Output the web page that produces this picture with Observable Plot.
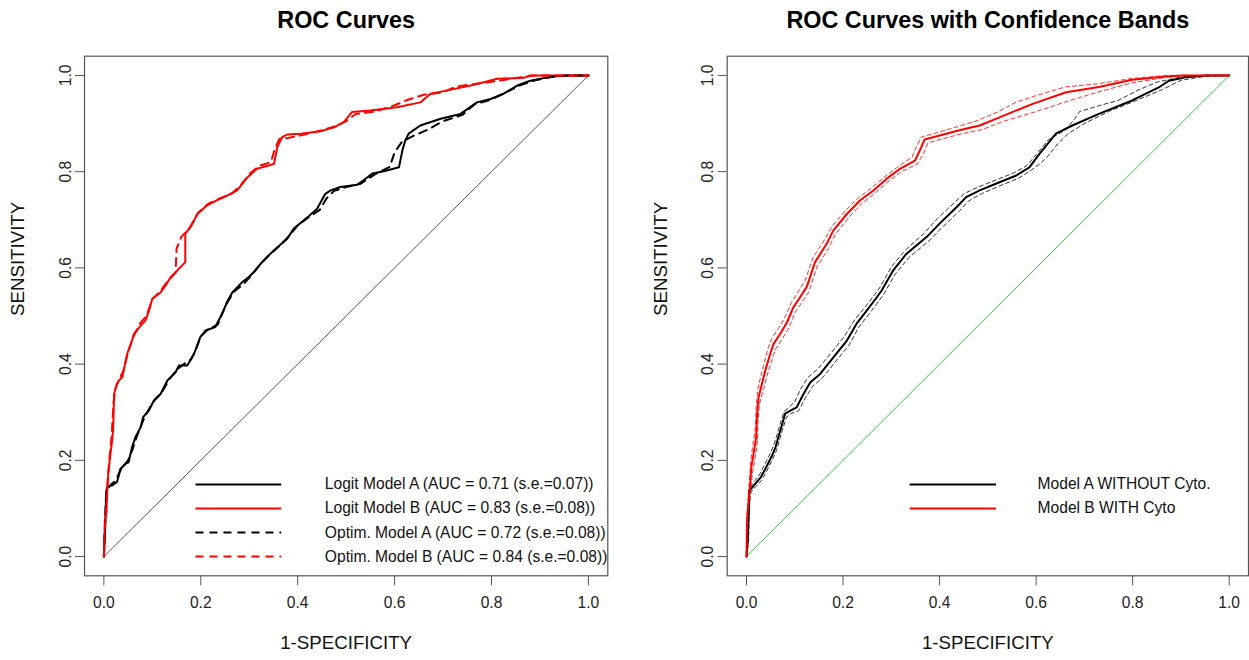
<!DOCTYPE html>
<html>
<head>
<meta charset="utf-8">
<script src="https://cdn.jsdelivr.net/npm/d3@7"></script>
<script src="https://cdn.jsdelivr.net/npm/@observablehq/plot@0.6"></script>
<style>
  html, body { margin: 0; padding: 0; background: #fff; overflow: hidden; }
  #fig { position: relative; width: 1249px; height: 660px; }
  #fig > svg { position: absolute; top: 0; }
</style>
</head>
<body>
<div id="fig"></div>
<script>
// ---- Axis ticks ----
const xTicks = [0, 0.2, 0.4, 0.6, 0.8, 1.0];
const yTicks = [0, 0.2, 0.4, 0.6, 0.8, 1.0];

// ---- Left panel: empirical ROC curves, [1-specificity, sensitivity] ----
const logitA = [[0,0],[0.002,0.040],[0.005,0.137],[0.007,0.144],[0.017,0.148],[0.027,0.155],[0.031,0.169],[0.034,0.182],[0.045,0.193],[0.051,0.196],[0.058,0.227],[0.065,0.248],[0.076,0.269],[0.081,0.290],[0.093,0.304],[0.103,0.324],[0.117,0.338],[0.131,0.366],[0.148,0.383],[0.155,0.397],[0.172,0.397],[0.186,0.421],[0.199,0.456],[0.210,0.470],[0.230,0.477],[0.247,0.511],[0.254,0.529],[0.265,0.549],[0.285,0.570],[0.299,0.581],[0.309,0.591],[0.323,0.608],[0.340,0.626],[0.358,0.643],[0.378,0.660],[0.392,0.682],[0.420,0.705],[0.440,0.723],[0.457,0.754],[0.468,0.761],[0.488,0.768],[0.523,0.773],[0.536,0.782],[0.554,0.796],[0.578,0.801],[0.609,0.809],[0.616,0.844],[0.622,0.865],[0.629,0.879],[0.653,0.896],[0.695,0.910],[0.736,0.920],[0.770,0.944],[0.798,0.951],[0.825,0.962],[0.853,0.979],[0.880,0.989],[0.915,0.996],[0.949,1.0],[1,1]];
const logitB = [[0,0],[0.001,0.040],[0.002,0.075],[0.005,0.089],[0.007,0.137],[0.009,0.172],[0.012,0.200],[0.014,0.217],[0.017,0.241],[0.019,0.262],[0.020,0.297],[0.021,0.338],[0.027,0.359],[0.031,0.366],[0.038,0.373],[0.048,0.421],[0.058,0.449],[0.062,0.463],[0.076,0.480],[0.086,0.491],[0.093,0.511],[0.100,0.536],[0.117,0.549],[0.127,0.563],[0.138,0.581],[0.148,0.591],[0.168,0.612],[0.168,0.671],[0.179,0.685],[0.193,0.712],[0.213,0.730],[0.234,0.741],[0.254,0.750],[0.275,0.761],[0.296,0.788],[0.316,0.806],[0.351,0.816],[0.358,0.851],[0.368,0.872],[0.378,0.877],[0.406,0.879],[0.447,0.884],[0.475,0.892],[0.495,0.903],[0.512,0.924],[0.550,0.927],[0.605,0.934],[0.653,0.944],[0.674,0.962],[0.709,0.969],[0.757,0.979],[0.784,0.986],[0.812,0.993],[0.867,0.995],[0.880,1.0],[1,1]];
const optimA = [[0,0],[0.002,0.05],[0.004,0.12],[0.006,0.14],[0.015,0.15],[0.025,0.158],[0.032,0.175],[0.04,0.188],[0.05,0.2],[0.06,0.225],[0.068,0.25],[0.078,0.275],[0.085,0.292],[0.095,0.31],[0.105,0.326],[0.12,0.342],[0.135,0.368],[0.15,0.388],[0.165,0.4],[0.18,0.41],[0.19,0.43],[0.2,0.458],[0.215,0.472],[0.235,0.482],[0.25,0.52],[0.268,0.55],[0.288,0.566],[0.305,0.585],[0.325,0.61],[0.345,0.63],[0.362,0.645],[0.38,0.664],[0.4,0.688],[0.425,0.707],[0.445,0.72],[0.46,0.745],[0.475,0.76],[0.5,0.768],[0.53,0.775],[0.56,0.795],[0.59,0.81],[0.6,0.84],[0.615,0.862],[0.64,0.875],[0.67,0.888],[0.7,0.905],[0.74,0.918],[0.765,0.94],[0.8,0.95],[0.83,0.965],[0.86,0.98],[0.89,0.99],[0.93,0.998],[0.96,1],[1,1]];
const optimB = [[0,0],[0.002,0.06],[0.005,0.1],[0.008,0.16],[0.012,0.21],[0.016,0.25],[0.02,0.32],[0.024,0.35],[0.032,0.37],[0.04,0.385],[0.05,0.425],[0.06,0.455],[0.075,0.485],[0.088,0.5],[0.1,0.535],[0.115,0.55],[0.13,0.57],[0.148,0.59],[0.15,0.64],[0.16,0.665],[0.175,0.68],[0.195,0.715],[0.215,0.733],[0.24,0.745],[0.265,0.755],[0.285,0.775],[0.3,0.795],[0.32,0.812],[0.345,0.82],[0.352,0.845],[0.362,0.868],[0.38,0.87],[0.41,0.876],[0.45,0.886],[0.48,0.895],[0.5,0.905],[0.52,0.92],[0.56,0.925],[0.6,0.938],[0.626,0.949],[0.66,0.96],[0.7,0.965],[0.726,0.977],[0.8,0.987],[0.84,0.993],[0.887,1],[1,1]];

// ---- Right panel: smoothed ROC curves with confidence bands ----
const modelA = [[0,0],[0.003,0.040],[0.006,0.137],[0.012,0.144],[0.018,0.151],[0.029,0.164],[0.039,0.182],[0.046,0.196],[0.053,0.210],[0.060,0.227],[0.066,0.248],[0.073,0.272],[0.080,0.297],[0.090,0.303],[0.104,0.310],[0.118,0.338],[0.132,0.362],[0.153,0.380],[0.180,0.414],[0.208,0.449],[0.228,0.484],[0.249,0.511],[0.270,0.539],[0.280,0.553],[0.304,0.595],[0.331,0.629],[0.373,0.664],[0.400,0.692],[0.435,0.726],[0.455,0.747],[0.483,0.761],[0.524,0.778],[0.559,0.792],[0.586,0.809],[0.607,0.837],[0.641,0.879],[0.675,0.896],[0.730,0.920],[0.799,0.948],[0.854,0.975],[0.875,0.989],[0.909,0.996],[0.951,1.0],[1,1]];
const modelAUpper = [[0,0],[0.002,0.06],[0.005,0.14],[0.012,0.15],[0.018,0.158],[0.028,0.172],[0.037,0.19],[0.044,0.204],[0.051,0.218],[0.058,0.236],[0.064,0.256],[0.071,0.28],[0.078,0.302],[0.088,0.31],[0.1,0.322],[0.113,0.35],[0.127,0.372],[0.148,0.39],[0.175,0.423],[0.203,0.458],[0.224,0.492],[0.245,0.518],[0.266,0.545],[0.278,0.562],[0.3,0.602],[0.328,0.636],[0.368,0.672],[0.395,0.702],[0.43,0.735],[0.452,0.755],[0.48,0.768],[0.52,0.784],[0.555,0.798],[0.58,0.812],[0.6,0.835],[0.625,0.866],[0.66,0.886],[0.68,0.91],[0.69,0.925],[0.73,0.937],[0.77,0.948],[0.81,0.969],[0.85,0.986],[0.9,0.997],[0.94,1],[1,1]];
const modelALower = [[0,0],[0.004,0.03],[0.007,0.13],[0.013,0.139],[0.02,0.146],[0.031,0.158],[0.041,0.176],[0.048,0.19],[0.055,0.204],[0.062,0.22],[0.068,0.241],[0.075,0.265],[0.083,0.29],[0.094,0.298],[0.108,0.303],[0.122,0.33],[0.137,0.354],[0.158,0.372],[0.185,0.406],[0.213,0.44],[0.232,0.476],[0.253,0.503],[0.274,0.531],[0.284,0.545],[0.308,0.587],[0.336,0.621],[0.378,0.656],[0.405,0.684],[0.44,0.717],[0.46,0.739],[0.487,0.754],[0.528,0.772],[0.563,0.786],[0.59,0.803],[0.61,0.818],[0.625,0.833],[0.645,0.858],[0.665,0.878],[0.7,0.9],[0.75,0.925],[0.8,0.945],[0.86,0.97],[0.9,0.99],[0.95,0.998],[1,1]];
const modelB = [[0,0],[0.001,0.075],[0.007,0.144],[0.010,0.186],[0.015,0.216],[0.020,0.248],[0.022,0.297],[0.025,0.331],[0.032,0.359],[0.039,0.387],[0.049,0.421],[0.056,0.442],[0.070,0.463],[0.084,0.487],[0.097,0.518],[0.111,0.539],[0.125,0.561],[0.142,0.612],[0.166,0.650],[0.180,0.678],[0.208,0.712],[0.235,0.740],[0.263,0.761],[0.290,0.785],[0.318,0.806],[0.349,0.823],[0.359,0.844],[0.369,0.867],[0.400,0.875],[0.441,0.886],[0.483,0.896],[0.524,0.913],[0.593,0.941],[0.662,0.965],[0.730,0.976],[0.799,0.991],[0.868,0.998],[0.902,1.0],[1,1]];
const modelBUpper = [[0,0],[0.001,0.09],[0.006,0.158],[0.009,0.2],[0.013,0.232],[0.018,0.265],[0.02,0.31],[0.023,0.345],[0.029,0.373],[0.036,0.4],[0.045,0.434],[0.052,0.453],[0.066,0.474],[0.08,0.498],[0.093,0.528],[0.107,0.55],[0.121,0.573],[0.138,0.622],[0.162,0.659],[0.177,0.686],[0.205,0.719],[0.232,0.746],[0.26,0.767],[0.287,0.79],[0.315,0.811],[0.343,0.83],[0.352,0.852],[0.362,0.872],[0.395,0.881],[0.435,0.893],[0.475,0.905],[0.52,0.924],[0.56,0.945],[0.6,0.958],[0.66,0.976],[0.73,0.983],[0.8,0.994],[0.86,0.999],[0.895,1],[1,1]];
const modelBLower = [[0,0],[0.002,0.06],[0.008,0.13],[0.012,0.172],[0.017,0.2],[0.022,0.232],[0.024,0.284],[0.027,0.318],[0.035,0.346],[0.042,0.374],[0.053,0.41],[0.06,0.431],[0.074,0.452],[0.088,0.476],[0.101,0.508],[0.115,0.529],[0.129,0.55],[0.146,0.602],[0.17,0.641],[0.184,0.67],[0.212,0.705],[0.239,0.734],[0.266,0.755],[0.293,0.779],[0.321,0.8],[0.354,0.816],[0.366,0.836],[0.376,0.86],[0.405,0.868],[0.447,0.879],[0.49,0.888],[0.53,0.904],[0.6,0.925],[0.67,0.948],[0.73,0.966],[0.8,0.985],[0.87,0.996],[0.91,1],[1,1]];

const chance = [[0,0],[1,1]];

// ---- Text ----
const leftTitle = "ROC Curves";
const rightTitle = "ROC Curves with Confidence Bands";
const xLabel = "1-SPECIFICITY";
const yLabel = "SENSITIVITY";
const leftLegendLabels = [
  "Logit Model A (AUC = 0.71 (s.e.=0.07))",
  "Logit Model B (AUC = 0.83 (s.e.=0.08))",
  "Optim. Model A (AUC = 0.72 (s.e.=0.08))",
  "Optim. Model B (AUC = 0.84 (s.e.=0.08))"
];
const rightLegendLabels = ["Model A WITHOUT Cyto.", "Model B WITH Cyto"];

// ---- Shared styling ----
const FONT = "Liberation Sans, Arial, Helvetica, sans-serif";
const BASE = 15.6;
const AXIS_GRAY = "#555";
const DASH = "8,6";

function legendKeys(rows, legend, dash) {
  return Plot.link(rows, {
    x1: legend.x1, x2: legend.x2, y1: "y", y2: "y",
    stroke: "color", strokeWidth: 2, strokeDasharray: dash
  });
}

function panel({title, curves, diag, legend, marginLeft, marginRight, width}) {
  const fmt = d3.format(".1f");
  const legRows = legend.items.map((it, i) => ({...it, y: legend.top - i * 0.05}));
  return Plot.plot({
    width, height: 660,
    marginLeft, marginRight, marginTop: 55.7, marginBottom: 84.7,
    style: {fontFamily: FONT, fontSize: BASE + "px", background: "#fff", color: "#111", overflow: "visible"},
    x: {domain: [-0.04, 1.04]},
    y: {domain: [-0.04, 1.04]},
    color: {type: "identity"},
    marks: [
      // reference diagonal
      Plot.line(chance, {x: d => d[0], y: d => d[1], stroke: diag, strokeWidth: 1}),
      // ROC curves
      ...curves.map(c => Plot.line(c.data, {
        x: d => d[0], y: d => d[1], stroke: c.color, strokeWidth: c.width,
        strokeDasharray: c.dash, curve: "linear"
      })),
      // legend keys (solid and dashed) and labels
      legendKeys(legRows.filter(d => !d.dashed), legend, null),
      legendKeys(legRows.filter(d => d.dashed), legend, DASH),
      Plot.text(legRows, {
        x: legend.tx, y: "y", text: "label", textAnchor: "start",
        fill: "#111", fontSize: BASE, clip: true
      }),
      Plot.frame({stroke: AXIS_GRAY, strokeWidth: 1.2}),
      Plot.axisX({ticks: xTicks, tickSize: 10, tickPadding: 11, tickFormat: fmt,
        label: null, stroke: AXIS_GRAY, fill: "#222", fontSize: BASE}),
      Plot.axisY({ticks: yTicks, tickSize: 9, label: null, stroke: AXIS_GRAY, fill: "none"}),
      // y tick labels run parallel to the axis
      Plot.text(yTicks, {y: d => d, text: d => fmt(d), frameAnchor: "left", dx: -19,
        rotate: -90, textAnchor: "middle", lineAnchor: "middle", fill: "#222", fontSize: BASE}),
      // axis titles
      Plot.text([xLabel], {text: d => d, frameAnchor: "bottom", dy: 67.5,
        lineAnchor: "middle", fill: "#111", fontSize: 18.7}),
      Plot.text([yLabel], {text: d => d, frameAnchor: "left", dx: -66,
        rotate: -90, lineAnchor: "middle", fill: "#111", fontSize: 18.7}),
      // panel title
      Plot.text([title], {text: d => d, frameAnchor: "top", dy: -35.5,
        lineAnchor: "middle", fontWeight: "bold", fill: "#000", fontSize: 23.4})
    ]
  });
}

const left = panel({
  title: leftTitle, width: 625, marginLeft: 84, marginRight: 17.7, diag: "#555",
  curves: [
    {data: logitA, color: "#000", width: 2},
    {data: logitB, color: "#f00", width: 2},
    {data: optimA, color: "#000", width: 2, dash: DASH},
    {data: optimB, color: "#f00", width: 2, dash: DASH}
  ],
  legend: {
    x1: 0.189, x2: 0.366, tx: 0.456, top: 0.150,
    items: leftLegendLabels.map((label, i) => ({
      label, color: i % 2 ? "#f00" : "#000", dashed: i >= 2
    }))
  }
});

const right = panel({
  title: rightTitle, width: 625, marginLeft: 102.7, marginRight: 1, diag: "#3c3",
  curves: [
    {data: modelAUpper, color: "#333", width: 1, dash: "4,3"},
    {data: modelALower, color: "#333", width: 1, dash: "4,3"},
    {data: modelBUpper, color: "#f33", width: 1, dash: "4,3"},
    {data: modelBLower, color: "#f33", width: 1, dash: "4,3"},
    {data: modelA, color: "#000", width: 2},
    {data: modelB, color: "#f00", width: 2}
  ],
  legend: {
    x1: 0.338, x2: 0.517, tx: 0.603, top: 0.150,
    items: rightLegendLabels.map((label, i) => ({label, color: i ? "#f00" : "#000", dashed: false}))
  }
});

left.style.left = "0px";
right.style.left = "624px";
const fig = document.getElementById("fig");
fig.appendChild(left);
fig.appendChild(right);
</script>
</body>
</html>
